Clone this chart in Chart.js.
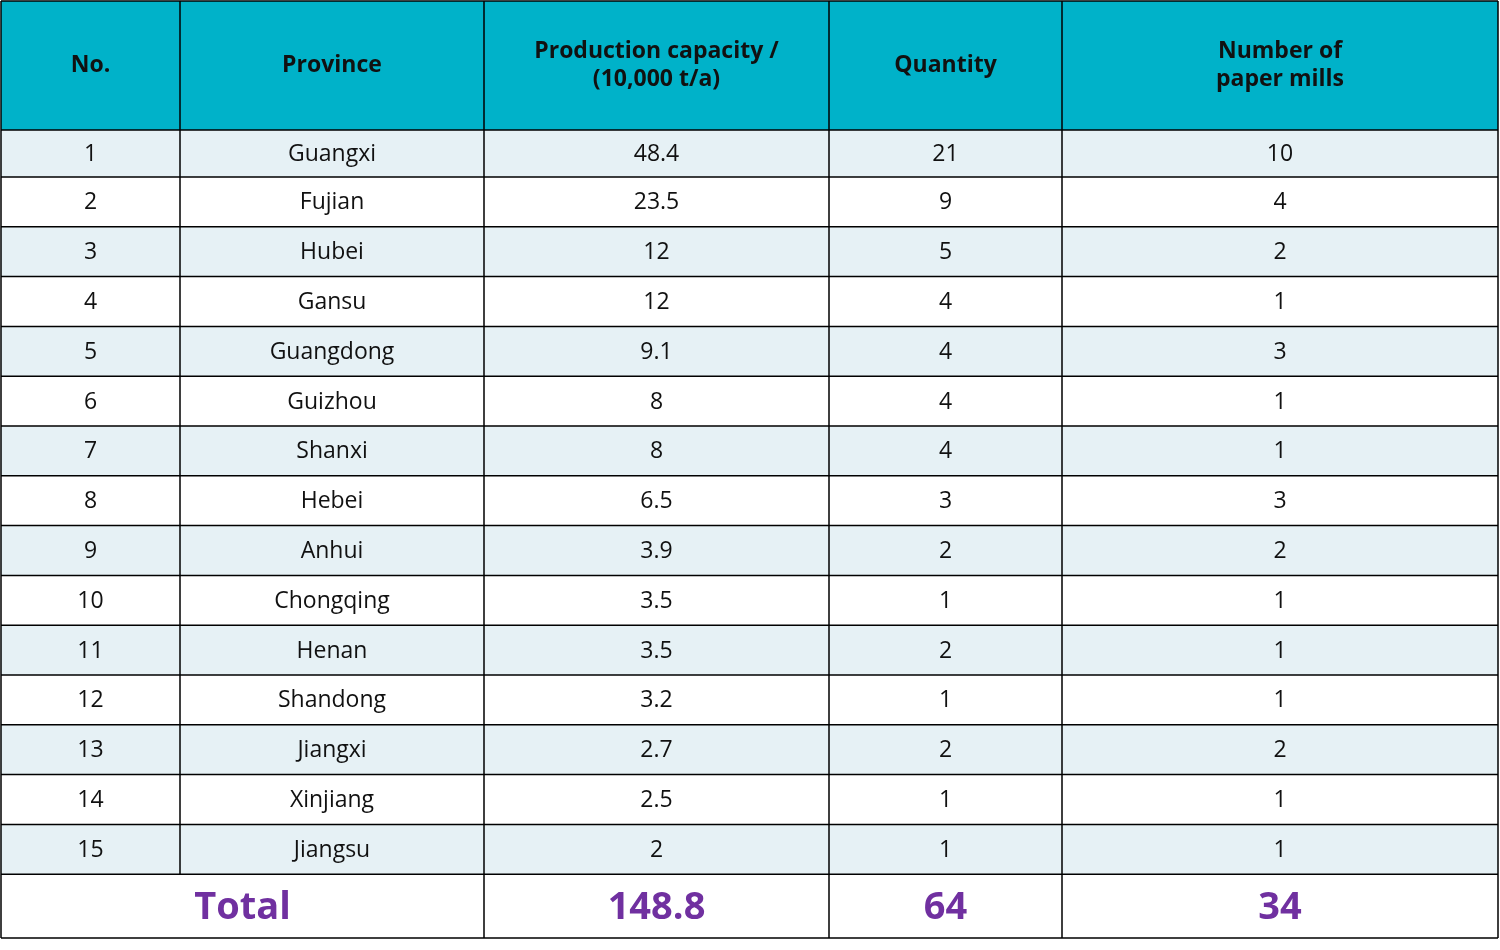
<!DOCTYPE html>
<html>
<head>
<meta charset="utf-8">
<script src="https://cdn.jsdelivr.net/npm/chart.js@4/dist/chart.umd.min.js"></script>
<style>
  html, body { margin: 0; padding: 0; background: #fff; }
  canvas { display: block; }
</style>
</head>
<body>
<canvas id="tbl" width="1500" height="950"></canvas>
<script>
/// Table contents
const headers = ["No.", "Province", "Production capacity /\n(10,000 t/a)", "Quantity", "Number of\npaper mills"];
const nos = ["1","2","3","4","5","6","7","8","9","10","11","12","13","14","15"];
const provinces = ["Guangxi","Fujian","Hubei","Gansu","Guangdong","Guizhou","Shanxi","Hebei","Anhui","Chongqing","Henan","Shandong","Jiangxi","Xinjiang","Jiangsu"];
const capacity = ["48.4","23.5","12","12","9.1","8","8","6.5","3.9","3.5","3.5","3.2","2.7","2.5","2"];
const quantity = ["21","9","5","4","4","4","4","3","2","1","2","1","2","1","1"];
const mills = ["10","4","2","1","3","1","1","3","2","1","1","1","2","1","1"];
const totalLabel = "Total";
const totals = ["148.8", "64", "34"];

// ── Layout (in scale units) ─────────────────────────────────────────
const COL_EDGES = [1, 180, 484, 829, 1062, 1498];
const HEADER_BOTTOM = 130;
const ROW_H = 49.8;
const TOTAL_BOTTOM = 938;

const HEAD_BG = "#00B2C9";
const ALT_BG = "#E6F1F5";
const TOTAL_COLOR = "#7030A0";
const FONT = "'Open Sans', 'Noto Sans', sans-serif";

/// Plugin that paints the table cells through the chart's x / y scales.
const tablePlugin = {
  id: "table",
  afterDraw(chart) {
    const { ctx, scales: { x, y } } = chart;
    const px = v => x.getPixelForValue(v);
    const py = v => y.getPixelForValue(v);
    const rowTop = i => HEADER_BOTTOM + 47 + (i - 1) * ROW_H;
    const rowEdges = [HEADER_BOTTOM];
    for (let i = 0; i < nos.length; i++) rowEdges.push(i === 0 ? HEADER_BOTTOM + 47 : rowTop(i + 1));
    const totalTop = rowEdges[rowEdges.length - 1];

    ctx.save();
    // backgrounds
    ctx.fillStyle = HEAD_BG;
    ctx.fillRect(px(COL_EDGES[0]), py(1), px(COL_EDGES[5]) - px(COL_EDGES[0]), py(HEADER_BOTTOM) - py(1));
    for (let i = 0; i < nos.length; i++) {
      if (i % 2 === 0) {
        ctx.fillStyle = ALT_BG;
        ctx.fillRect(px(COL_EDGES[0]), py(rowEdges[i]), px(COL_EDGES[5]) - px(COL_EDGES[0]), py(rowEdges[i + 1]) - py(rowEdges[i]));
      }
    }

    // texts
    ctx.textAlign = "center";
    ctx.textBaseline = "middle";
    const cx = c => (px(COL_EDGES[c]) + px(COL_EDGES[c + 1])) / 2;

    ctx.fillStyle = "#111";
    ctx.font = "bold 23px " + FONT;
    headers.forEach((h, c) => {
      const lines = h.split("\n");
      const mid = py(1 + (HEADER_BOTTOM - 1) / 2);
      lines.forEach((ln, k) => ctx.fillText(ln, cx(c), mid + (k - (lines.length - 1) / 2) * 28));
    });

    ctx.font = "23px " + FONT;
    const cols = [nos, provinces, capacity, quantity, mills];
    for (let i = 0; i < nos.length; i++) {
      const mid = (py(rowEdges[i]) + py(rowEdges[i + 1])) / 2 + 1;
      cols.forEach((arr, c) => ctx.fillText(arr[i], cx(c), mid));
    }

    ctx.fillStyle = TOTAL_COLOR;
    ctx.font = "bold 38px " + FONT;
    const tmid = (py(totalTop) + py(TOTAL_BOTTOM)) / 2 + 2;
    ctx.fillText(totalLabel, (px(COL_EDGES[0]) + px(COL_EDGES[2])) / 2, tmid);
    totals.forEach((t, k) => ctx.fillText(t, cx(k + 2), tmid));

    // grid lines
    ctx.strokeStyle = "#000";
    ctx.lineWidth = 1.5;
    ctx.beginPath();
    [1].concat(rowEdges, [TOTAL_BOTTOM]).forEach(r => {
      ctx.moveTo(px(COL_EDGES[0]), py(r));
      ctx.lineTo(px(COL_EDGES[5]), py(r));
    });
    COL_EDGES.forEach((c, k) => {
      ctx.moveTo(px(c), py(1));
      ctx.lineTo(px(c), py(k === 1 ? totalTop : TOTAL_BOTTOM));
    });
    ctx.stroke();
    ctx.restore();
  }
};

new Chart(document.getElementById("tbl"), {
  type: "scatter",
  data: { datasets: [{ data: [] }] },
  options: {
    responsive: false,
    animation: false,
    devicePixelRatio: 1,
    layout: { padding: 0 },
    plugins: { legend: { display: false }, tooltip: { enabled: false } },
    scales: {
      x: { type: "linear", min: 0, max: 1500, display: false },
      y: { type: "linear", min: 0, max: 950, reverse: true, display: false }
    }
  },
  plugins: [tablePlugin]
});
</script>
</body>
</html>
